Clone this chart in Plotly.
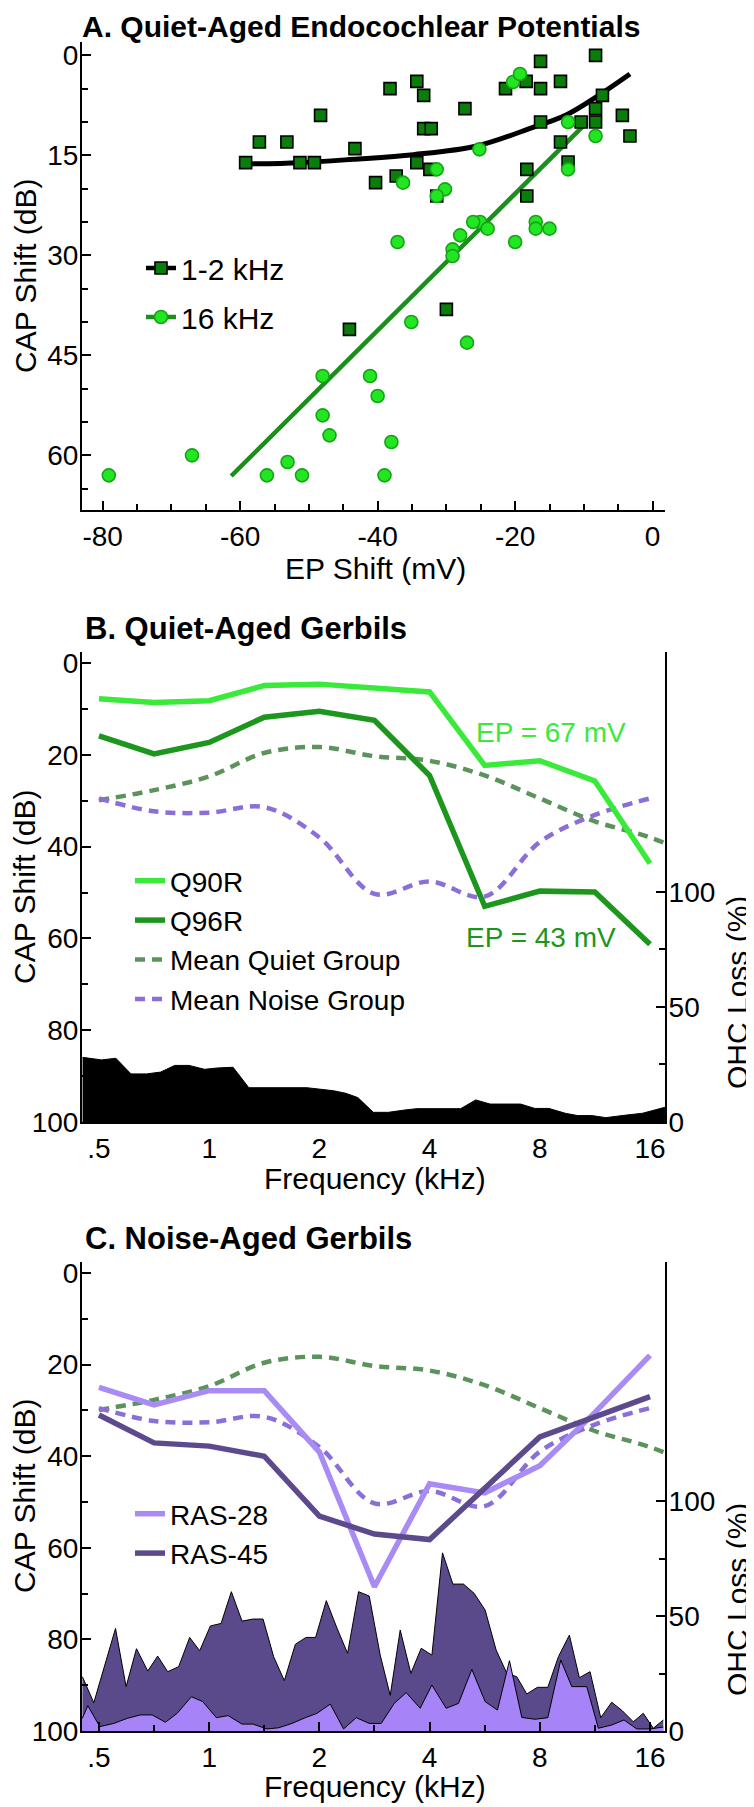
import plotly.graph_objects as go

# page geometry (the page body adds an 8 px margin around the figure)
OFF = 8
PAGE_W, PAGE_H = 754, 1807
W, H = PAGE_W - OFF, PAGE_H - OFF
L_PX, R_PX = 82, 665          # plot left / right edge in page pixels
FONT = "Liberation Sans, Arial, Helvetica, sans-serif"

# ---------------- Panel A data (EP shift mV, CAP shift dB) ----------------
sq_ep = [-59.2, -57.2, -53.2, -51.3, -49.2, -48.3, -43.3, -40.3, -38.2, -37.3,
         -34.3, -34.3, -33.3, -33.3, -32.2, -32.4, -31.4, -27.3, -21.4, -18.4,
         -18.3, -18.3, -16.3, -16.3, -16.3, -13.4, -13.4, -12.3, -10.4, -8.3,
         -8.3, -8.3, -7.3, -4.4, -3.3, -44.1, -30.0]
sq_cap = [16.1, 13.0, 13.0, 16.1, 16.1, 9.0, 14.0, 19.1, 5.0, 18.1,
          3.9, 16.1, 6.0, 11.0, 11.0, 17.1, 21.1, 8.0, 5.0, 3.9,
          17.1, 21.1, 0.9, 5.0, 10.0, 3.9, 13.0, 16.0, 10.0, 0.0,
          8.0, 10.0, 6.0, 9.0, 12.1, 41.1, 38.1]
c16_ep = [-25.2, -20.3, -19.3, -12.3, -8.3, -31.4, -36.3, -30.2, -31.4, -12.3,
          -25.1, -26.1, -24.0, -28.0, -29.1, -29.1, -37.1, -20.0, -17.0, -17.0,
          -15.0, -35.1, -27.0, -48.0, -41.1, -40.0, -48.0, -47.0, -38.0, -67.0,
          -53.1, -79.1, -56.1, -51.0, -39.0]
c16_cap = [14.1, 4.0, 2.8, 10.0, 12.1, 17.1, 19.1, 20.1, 21.1, 17.1,
           25.0, 25.0, 26.0, 27.0, 29.1, 30.1, 28.0, 28.0, 25.0, 26.0,
           26.0, 40.0, 43.1, 48.1, 48.1, 51.1, 54.0, 57.0, 58.0, 60.0,
           61.0, 63.0, 63.0, 63.0, 63.0]
fit12_ep = [-59.3, -51.3, -43.6, -34.8, -25.6, -17.4, -12.5, -7.7, -3.3]
fit12_cap = [16.3, 16.1, 15.6, 14.9, 13.6, 10.8, 8.9, 5.9, 2.8]
fit16_ep = [-61.3, -10.0]
fit16_cap = [63.1, 10.5]
a_xticks = [-80, -60, -40, -20, 0]
a_xticktext = ["-80", "-60", "-40", "-20", "0"]
a_yticks = [0, 15, 30, 45, 60]

# ---------------- Panels B / C data ----------------
freq = [0.5, 0.707, 1.0, 1.414, 2.0, 2.828, 4.0, 5.657, 8.0, 11.31, 16.0]
quiet_freq = [0.5, 0.707, 1.0, 1.414, 2.0, 2.828, 4.0, 5.657, 8.0, 11.31, 16.0, 22.63]
q90r = [7.8, 8.6, 8.2, 4.9, 4.6, 5.5, 6.3, 22.3, 21.3, 25.7, 43.7]
q96r = [15.9, 19.8, 17.3, 11.8, 10.5, 12.5, 24.5, 53.0, 49.7, 49.9, 61.3]
mean_quiet = [29.9, 27.7, 24.7, 19.6, 18.3, 20.3, 21.3, 24.5, 29.5, 34.5, 38.0, 43.0]
mean_noise = [29.5, 32.3, 32.6, 31.4, 38.0, 50.3, 47.6, 50.9, 39.0, 33.1, 29.5]
ras28 = [25.0, 28.8, 25.7, 25.7, 39.1, 68.5, 46.0, 48.0, 42.1, 30.5, 18.0]
ras45 = [31.0, 37.1, 37.8, 40.0, 53.1, 57.0, 58.2, 46.8, 35.8, 31.4, 27.0]

ohcq_freq = [0.451, 0.5085, 0.5561, 0.6116, 0.6736, 0.7368, 0.8055, 0.8814, 0.9715,
             1.0542, 1.1621, 1.2834, 1.8502, 2.0496, 2.1854, 2.3596, 2.5476, 2.8083,
             3.0862, 3.4183, 3.6908, 4.8638, 5.3471, 5.8506, 7.0904, 7.753, 8.4762,
             9.3906, 10.146, 11.085, 12.121, 13.436, 15.262, 17.58]
ohcq = [28.1, 27.0, 27.7, 20.9, 20.9, 21.7, 24.6, 24.6, 22.9, 23.5, 23.8, 14.9,
        14.9, 14.2, 13.6, 12.5, 10.6, 4.2, 4.2, 5.2, 5.8, 5.8, 9.6, 7.8, 7.8, 5.9,
        5.9, 3.8, 2.8, 2.8, 1.9, 2.8, 3.8, 6.4]

ohc45_freq = [0.4505, 0.484, 0.5548, 0.593, 0.633, 0.6795, 0.7233, 0.7703, 0.8254,
              0.8845, 0.942, 1.0077, 1.0778, 1.1496, 1.2295, 1.3176, 1.4034, 1.5,
              1.6044, 1.7193, 1.8382, 1.9532, 2.089, 2.2346, 2.3883, 2.5586, 2.7362,
              2.9322, 3.1227, 3.3251, 3.5557, 3.7946, 4.0586, 4.3386, 4.6307, 4.9488,
              5.293, 5.6724, 6.0793, 6.5019, 6.9213, 7.3714, 7.8804, 8.4139, 8.994,
              9.6357, 10.26, 10.975, 11.737, 12.576, 13.443, 14.408, 15.339, 16.336,
              17.399]
ohc45 = [23.6, 12.3, 44.6, 19.3, 35.8, 26.1, 32.6, 25.8, 28.0, 40.7, 34.9, 45.7,
         46.8, 60.6, 47.8, 48.7, 48.7, 32.3, 21.9, 37.7, 40.7, 40.7, 56.7, 44.7,
         33.8, 60.6, 58.7, 33.0, 15.5, 43.9, 25.1, 36.0, 33.0, 77.5, 63.9, 63.9,
         59.9, 52.6, 35.2, 25.1, 23.6, 16.1, 19.0, 19.0, 32.3, 41.7, 23.2, 25.8,
         5.8, 12.5, 8.8, 4.0, 7.7, 1.2, 4.8]

ohc28_freq = [0.4501, 0.4662, 0.5026, 0.5488, 0.5971, 0.649, 0.6985, 0.7595, 0.8175,
              0.8942, 0.96, 1.0463, 1.1262, 1.2297, 1.3177, 1.4388, 1.5478, 1.6837,
              1.8306, 1.9701, 2.142, 2.3285, 2.5222, 2.7367, 2.9508, 3.2025, 3.453,
              3.7705, 4.0579, 4.4399, 4.7968, 5.2178, 5.6729, 6.1291, 6.6095, 7.1446,
              7.767, 8.4131, 9.129, 9.7822, 10.75, 11.563, 12.576, 13.588, 14.72,
              16.0, 17.392]
ohc28 = [5.5, 11.0, 1.9, 3.3, 5.5, 7.0, 7.0, 3.8, 7.7, 14.9, 12.8, 5.8, 6.7, 3.0,
         3.0, 0.9, 1.4, 3.3, 5.8, 7.7, 11.7, 0.9, 5.8, 3.3, 3.3, 12.0, 16.7, 9.9,
         20.0, 9.9, 12.0, 26.8, 12.8, 9.1, 30.6, 5.9, 5.1, 5.8, 30.9, 19.3, 19.3,
         1.2, 2.6, 4.8, 0.9, 0.9, 1.7]

freq_ticks = [0.5, 1, 2, 4, 8, 16]
freq_ticktext = [".5", "1", "2", "4", "8", "16"]
freq_minor = [0.707, 1.414, 2.828, 5.657, 11.31]
cap_ticks = [0, 20, 40, 60, 80, 100]
ohc_ticks = [0, 50, 100]
ohc_minor = [25, 75]

# ---------------- colours ----------------
C_SQ = "#0b7d0b"
C_CIRC = "#22e622"
C_CIRC_EDGE = "#17a317"
C_FIT16 = "#1b8f1b"
C_Q90 = "#3aea3a"
C_Q96 = "#1c961c"
C_MQ = "#5c935c"
C_MN = "#8b6fd8"
C_R28 = "#a98bf5"
C_R45 = "#5d4a8d"
C_A45 = "#5b4a8b"
C_A28 = "#a683f7"


def yp(page_y):
    return 1 - (page_y - OFF) / H


def xp(page_x):
    return (page_x - L_PX) / (R_PX - L_PX)


fig = go.Figure()

# ---- Panel A ----
fig.add_trace(go.Scatter(x=fit12_ep, y=fit12_cap, mode="lines", line=dict(color="black", width=5, shape="spline"),
                         showlegend=False, xaxis="x", yaxis="y", hoverinfo="skip"))
fig.add_trace(go.Scatter(x=fit16_ep, y=fit16_cap, mode="lines", line=dict(color=C_FIT16, width=4.5),
                         showlegend=False, xaxis="x", yaxis="y", hoverinfo="skip"))
fig.add_trace(go.Scatter(x=sq_ep, y=sq_cap, mode="markers", name="1-2 kHz",
                         marker=dict(symbol="square", size=12, color=C_SQ, line=dict(color="black", width=1.6)),
                         showlegend=False, xaxis="x", yaxis="y"))
fig.add_trace(go.Scatter(x=c16_ep, y=c16_cap, mode="markers", name="16 kHz",
                         marker=dict(symbol="circle", size=13, color=C_CIRC, line=dict(color=C_CIRC_EDGE, width=1.6)),
                         showlegend=False, xaxis="x", yaxis="y"))
# legend entries for panel A (line + marker)
fig.add_trace(go.Scatter(x=[None], y=[None], mode="lines+markers", name="1-2 kHz", legend="legend",
                         legendgroup="a1", line=dict(color="black", width=4.5),
                         marker=dict(symbol="square", size=12, color=C_SQ, line=dict(color="black", width=1.6)),
                         xaxis="x", yaxis="y"))
fig.add_trace(go.Scatter(x=[None], y=[None], mode="lines+markers", name="16 kHz", legend="legend",
                         legendgroup="a2", line=dict(color=C_FIT16, width=4.5),
                         marker=dict(symbol="circle", size=13, color=C_CIRC, line=dict(color=C_CIRC_EDGE, width=1.6)),
                         xaxis="x", yaxis="y"))

# ---- Panel B ----
fig.add_trace(go.Scatter(x=ohcq_freq, y=ohcq, mode="lines", fill="tozeroy", fillcolor="black",
                         line=dict(color="black", width=1), showlegend=False, xaxis="x2", yaxis="y2",
                         name="OHC loss"))
fig.add_trace(go.Scatter(x=quiet_freq, y=mean_quiet, mode="lines", name="Mean Quiet Group", legend="legend2",
                         legendrank=3, line=dict(color=C_MQ, width=4.5, dash="10px,7px", shape="spline"),
                         xaxis="x2", yaxis="y3"))
fig.add_trace(go.Scatter(x=freq, y=mean_noise, mode="lines", name="Mean Noise Group", legend="legend2",
                         legendrank=4, line=dict(color=C_MN, width=4.5, dash="10px,7px", shape="spline"),
                         xaxis="x2", yaxis="y3"))
fig.add_trace(go.Scatter(x=freq, y=q90r, mode="lines", name="Q90R", legend="legend2", legendrank=1,
                         line=dict(color=C_Q90, width=5.5), xaxis="x2", yaxis="y3"))
fig.add_trace(go.Scatter(x=freq, y=q96r, mode="lines", name="Q96R", legend="legend2", legendrank=2,
                         line=dict(color=C_Q96, width=5.5), xaxis="x2", yaxis="y3"))

# ---- Panel C ----
fig.add_trace(go.Scatter(x=ohc45_freq, y=ohc45, mode="lines", fill="tozeroy", fillcolor=C_A45,
                         line=dict(color="black", width=1), showlegend=False, xaxis="x3", yaxis="y4",
                         name="RAS-45 OHC loss"))
fig.add_trace(go.Scatter(x=ohc28_freq, y=ohc28, mode="lines", fill="tozeroy", fillcolor=C_A28,
                         line=dict(color="black", width=1), showlegend=False, xaxis="x3", yaxis="y4",
                         name="RAS-28 OHC loss"))
fig.add_trace(go.Scatter(x=quiet_freq, y=mean_quiet, mode="lines", showlegend=False,
                         line=dict(color=C_MQ, width=4.5, dash="10px,7px", shape="spline"),
                         xaxis="x3", yaxis="y5", name="Mean Quiet Group"))
fig.add_trace(go.Scatter(x=freq, y=mean_noise, mode="lines", showlegend=False,
                         line=dict(color=C_MN, width=4.5, dash="10px,7px", shape="spline"),
                         xaxis="x3", yaxis="y5", name="Mean Noise Group"))
fig.add_trace(go.Scatter(x=freq, y=ras28, mode="lines", name="RAS-28", legend="legend3", legendrank=1,
                         line=dict(color=C_R28, width=5.5), xaxis="x3", yaxis="y5"))
fig.add_trace(go.Scatter(x=freq, y=ras45, mode="lines", name="RAS-45", legend="legend3", legendrank=2,
                         line=dict(color=C_R45, width=5.5), xaxis="x3", yaxis="y5"))

# ---------------- axes ----------------
TICKFONT = dict(family=FONT, size=28, color="black")


def ax(**kw):
    base = dict(showline=True, linecolor="black", linewidth=2, ticks="inside", ticklen=9, tickwidth=2,
                tickcolor="black", showgrid=False, zeroline=False, tickfont=TICKFONT, automargin=False,
                tickmode="array")
    base.update(kw)
    return base


def minor(**kw):
    base = dict(ticks="inside", ticklen=6, tickwidth=2, tickcolor="black", showgrid=False)
    base.update(kw)
    return base


domA = [yp(510), yp(42)]
domB = [yp(1122), yp(652)]
domC = [yp(1731), yp(1262)]

fig.update_layout(
    xaxis=ax(domain=[0, 1], anchor="y", range=[-83, 1.8], tickvals=a_xticks, ticktext=a_xticktext,
             minor=minor(dtick=5, tick0=0), ticklabelstandoff=0),
    yaxis=ax(domain=domA, anchor="x", range=[68.2, -2], tickvals=a_yticks,
             minor=minor(dtick=5, tick0=0), ticklabelstandoff=-4),
    xaxis2=ax(domain=[0, 1], anchor="y2", type="log", range=[-0.3474, 1.2451], tickvals=freq_ticks,
              ticktext=freq_ticktext, minor=minor(tickmode="array", tickvals=freq_minor), ticklabelstandoff=0),
    yaxis2=ax(domain=domB, anchor="x2", side="right", range=[0, 204.3], tickvals=ohc_ticks,
              minor=minor(tickmode="array", tickvals=ohc_minor), ticklabelstandoff=-4),
    yaxis3=ax(overlaying="y2", anchor="x2", side="left", range=[100, -2.4], tickvals=cap_ticks,
              minor=minor(dtick=10, tick0=0), ticklabelstandoff=-4),
    xaxis3=ax(domain=[0, 1], anchor="y4", type="log", range=[-0.3474, 1.2451], tickvals=freq_ticks,
              ticktext=freq_ticktext, minor=minor(tickmode="array", tickvals=freq_minor), ticklabelstandoff=0),
    yaxis4=ax(domain=domC, anchor="x3", side="right", range=[0, 204.0], tickvals=ohc_ticks,
              minor=minor(tickmode="array", tickvals=ohc_minor), ticklabelstandoff=-4),
    yaxis5=ax(overlaying="y4", anchor="x3", side="left", range=[100, -2.4], tickvals=cap_ticks,
              minor=minor(dtick=10, tick0=0), ticklabelstandoff=-4),
)

LEG = dict(bgcolor="rgba(0,0,0,0)", borderwidth=0, xanchor="left", yanchor="top",
           itemclick=False, itemdoubleclick=False)
fig.update_layout(
    legend=dict(LEG, x=xp(141), y=yp(242), font=dict(family=FONT, size=30, color="black"),
                traceorder="grouped", tracegroupgap=7),
    legend2=dict(LEG, x=xp(130), y=yp(856), font=dict(family=FONT, size=28, color="black"),
                 traceorder="normal"),
    legend3=dict(LEG, x=xp(130), y=yp(1489), font=dict(family=FONT, size=28, color="black"),
                 traceorder="normal"),
)

# ---------------- text annotations ----------------
ann = []


def add_text(text, x_px, y_px, size, color="black", bold=False, angle=0, xanchor="center"):
    ann.append(dict(text=("<b>%s</b>" % text) if bold else text, x=xp(x_px), y=yp(y_px), xref="paper",
                    yref="paper", showarrow=False, xanchor=xanchor, yanchor="middle", textangle=angle,
                    font=dict(family=FONT, size=size, color=color)))


add_text("A. Quiet-Aged Endocochlear Potentials", 80, 27, 30, bold=True, xanchor="left")
add_text("B. Quiet-Aged Gerbils", 83, 628, 31, bold=True, xanchor="left")
add_text("C. Noise-Aged Gerbils", 83, 1238, 31, bold=True, xanchor="left")

add_text("EP Shift (mV)", 375, 568, 30)
add_text("Frequency (kHz)", 375, 1178, 30)
add_text("Frequency (kHz)", 375, 1786, 30)

add_text("CAP Shift (dB)", 25, 276, 30, angle=-90)
add_text("CAP Shift (dB)", 24, 887, 30, angle=-90)
add_text("CAP Shift (dB)", 24, 1496, 30, angle=-90)

add_text("OHC Loss (%)", 737, 993, 30, angle=-90)
add_text("OHC Loss (%)", 737, 1600, 30, angle=-90)

add_text("EP = 67 mV", 551, 732, 28, color=C_Q90)
add_text("EP = 43 mV", 541, 937, 28, color=C_Q96)

fig.update_layout(
    annotations=ann,
    width=W, height=H,
    margin=dict(l=L_PX - OFF, r=PAGE_W - R_PX, t=0, b=0, pad=0, autoexpand=False),
    paper_bgcolor="white", plot_bgcolor="white",
    font=dict(family=FONT, color="black"),
    showlegend=True,
)

fig.write_html("out.html")
